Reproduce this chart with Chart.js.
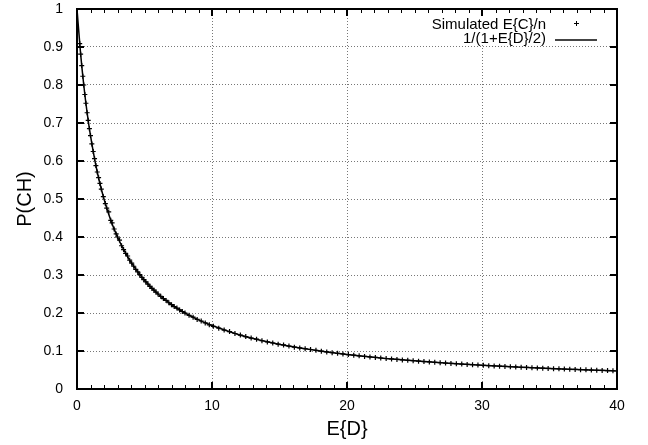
<!DOCTYPE html>
<html>
<head>
<meta charset="utf-8">
<script src="https://cdn.jsdelivr.net/npm/chart.js@4/dist/chart.umd.min.js"></script>
<style>
    html, body { margin: 0; padding: 0; background: #fff; }
</style>
</head>
<body>
<canvas id="chart" width="648" height="445"></canvas>
<script>
// Simulated E{C}/n against E{D}
const simD = [0.2, 0.27, 0.35, 0.43, 0.5, 0.58, 0.66, 0.75, 0.83, 0.92, 1.0, 1.1, 1.2, 1.3, 1.4, 1.5, 1.6, 1.7, 1.8, 1.95,
    2.1, 2.2, 2.35, 2.5, 2.6, 2.75, 2.9, 3.0, 3.15, 3.3, 3.45, 3.6, 3.75, 3.9, 4.05, 4.2, 4.35, 4.5, 4.65, 4.8,
    4.95, 5.1, 5.25, 5.4, 5.55, 5.7, 5.85, 6.0, 6.2, 6.4, 6.6, 6.8, 7.0, 7.2, 7.4, 7.6, 7.8, 8.0, 8.3, 8.6,
    8.9, 9.2, 9.5, 9.8, 10.1, 10.5, 10.9, 11.3, 11.7, 12.1, 12.5, 12.9, 13.3, 13.7, 14.1, 14.5, 14.9, 15.3, 15.7, 16.1,
    16.5, 16.9, 17.3, 17.7, 18.1, 18.5, 18.9, 19.3, 19.7, 20.1, 20.5, 20.9, 21.3, 21.7, 22.1, 22.5, 22.9, 23.3, 23.7, 24.1,
    24.5, 24.9, 25.3, 25.7, 26.1, 26.5, 26.9, 27.3, 27.7, 28.1, 28.5, 28.9, 29.3, 29.7, 30.1, 30.5, 30.9, 31.3, 31.7, 32.1,
    32.5, 32.9, 33.3, 33.7, 34.1, 34.5, 34.9, 35.3, 35.7, 36.1, 36.5, 36.9, 37.3, 37.7, 38.1, 38.5, 38.9, 39.3, 39.7];
const simP = [0.909, 0.881, 0.851, 0.823, 0.800, 0.775, 0.752, 0.727, 0.707, 0.685, 0.667, 0.645, 0.625, 0.606, 0.588, 0.571, 0.556, 0.541, 0.526, 0.506,
    0.488, 0.476, 0.466, 0.444, 0.437, 0.421, 0.408, 0.400, 0.392, 0.377, 0.367, 0.357, 0.350, 0.339, 0.331, 0.323, 0.315, 0.308, 0.301, 0.294,
    0.288, 0.282, 0.276, 0.270, 0.265, 0.260, 0.255, 0.250, 0.244, 0.238, 0.233, 0.227, 0.222, 0.217, 0.213, 0.208, 0.204, 0.200, 0.194, 0.189,
    0.183, 0.179, 0.174, 0.169, 0.165, 0.160, 0.155, 0.151, 0.146, 0.142, 0.138, 0.134, 0.131, 0.127, 0.124, 0.121, 0.118, 0.116, 0.113, 0.110,
    0.108, 0.106, 0.104, 0.102, 0.0995, 0.0976, 0.0957, 0.0939, 0.0922, 0.0905, 0.0889, 0.0873, 0.0858, 0.0844, 0.0830, 0.0816, 0.0803, 0.0791, 0.0778, 0.0766,
    0.0755, 0.0743, 0.0733, 0.0722, 0.0712, 0.0702, 0.0692, 0.0683, 0.0673, 0.0664, 0.0656, 0.0647, 0.0639, 0.0631, 0.0623, 0.0615, 0.0608, 0.0601, 0.0593, 0.0587,
    0.0580, 0.0573, 0.0567, 0.0560, 0.0554, 0.0548, 0.0542, 0.0536, 0.0531, 0.0525, 0.0519, 0.0514, 0.0509, 0.0504, 0.0499, 0.0494, 0.0489, 0.0484, 0.0480];

// 1/(1+E{D}/2) sampled along the axis
const curveD = [0, 0.25, 0.5, 0.75, 1, 1.5, 2, 2.5, 3, 3.5, 4, 5, 6, 7, 8, 9, 10, 12, 14, 16, 18, 20, 22.5, 25, 27.5, 30, 32.5, 35, 37.5, 40];
const curveP = [1, 0.889, 0.8, 0.727, 0.667, 0.571, 0.5, 0.444, 0.4, 0.364, 0.333, 0.286, 0.25, 0.222, 0.2, 0.182, 0.167, 0.143, 0.125, 0.111, 0.1, 0.0909, 0.0816, 0.0741, 0.0678, 0.0625, 0.0580, 0.0541, 0.0506, 0.0476];

const xTicks = [0, 10, 20, 30, 40];
const yTicks = [0, 0.1, 0.2, 0.3, 0.4, 0.5, 0.6, 0.7, 0.8, 0.9, 1];
const xLabel = 'E{D}';
const yLabel = 'P(CH)';
const seriesNames = ['Simulated E{C}/n', '1/(1+E{D}/2)'];

const FONT = '"Liberation Sans", Arial, Helvetica, sans-serif';

const toPoints = (xs, ys) => xs.map((x, i) => ({ x: x, y: ys[i] }));

// white box for the key, laid over the grid
const keyBoxPlugin = {
    id: 'keyBox',
    beforeDatasetsDraw(chart) {
        const ctx = chart.ctx;
        ctx.save();
        ctx.fillStyle = '#fff';
        ctx.fillRect(424, 12, 180, 33);
        ctx.restore();
    }
};

// inward ticks on all four sides
const inwardTicksPlugin = {
    id: 'inwardTicks',
    afterDraw(chart) {
        const ctx = chart.ctx;
        const xs = chart.scales.x;
        const ys = chart.scales.y;
        const left = Math.round(xs.getPixelForValue(0));
        const right = Math.round(xs.getPixelForValue(40));
        const top = Math.round(ys.getPixelForValue(1));
        const bottom = Math.round(ys.getPixelForValue(0));

        ctx.save();
        ctx.fillStyle = '#000';
        for (let v = 1; v < 40; v++) {
            const px = Math.round(xs.getPixelForValue(v));
            const major = v % 10 === 0;
            const len = major ? 7 : 4;
            ctx.fillRect(px - (major ? 1 : 0), bottom - len, major ? 2 : 1, len);
            ctx.fillRect(px - (major ? 1 : 0), top, major ? 2 : 1, len);
        }
        yTicks.slice(1, -1).forEach(v => {
            const py = Math.round(ys.getPixelForValue(v));
            ctx.fillRect(left, py - 1, 7, 2);
            ctx.fillRect(right - 7, py - 1, 7, 2);
        });
        ctx.restore();
    }
};

// axis titles and key
const labelsPlugin = {
    id: 'labels',
    afterDraw(chart) {
        const ctx = chart.ctx;
        const a = chart.chartArea;

        ctx.save();
        ctx.fillStyle = '#000';
        ctx.font = '20px ' + FONT;
        ctx.textAlign = 'center';
        ctx.textBaseline = 'middle';
        ctx.fillText(xLabel, (a.left + a.right) / 2, 429);
        ctx.save();
        ctx.translate(25, (a.top + a.bottom) / 2);
        ctx.rotate(-Math.PI / 2);
        ctx.fillText(yLabel, 0, 0);
        ctx.restore();

        ctx.font = '15px ' + FONT;
        ctx.textAlign = 'right';
        ctx.fillText(seriesNames[0], 546, 25);
        ctx.fillText(seriesNames[1], 546, 39);
        ctx.fillRect(574, 23, 5, 1);
        ctx.fillRect(576, 21, 1, 5);
        ctx.fillStyle = '#444';
        ctx.fillRect(555, 39, 42, 2);
        ctx.restore();
    }
};

const gridColor = (ctx, lo, hi) => {
    const v = ctx.tick ? ctx.tick.value : null;
    return (v === lo || v === hi) ? 'rgba(0,0,0,0)' : '#777';
};

// solid black frame line shared by all four axes
const frameBorder = { display: true, color: '#000', width: 2, dash: [1, 2] };

// top and right axes only carry the frame
const frameAxis = (position, min, max) => ({
    type: 'linear',
    position: position,
    min: min,
    max: max,
    afterFit: s => {
        if (s.isHorizontal()) { s.height = 0; } else { s.width = 0; }
    },
    grid: { display: false, drawTicks: false },
    ticks: { display: false },
    border: frameBorder
});

new Chart(document.getElementById('chart'), {
    type: 'scatter',
    data: {
        datasets: [{
            label: seriesNames[0],
            data: toPoints(simD, simP),
            pointStyle: 'cross',
            pointRadius: 2.5,
            pointBorderWidth: 1.2,
            borderColor: '#000',
            backgroundColor: '#000',
            showLine: false
        }, {
            label: seriesNames[1],
            data: toPoints(curveD, curveP),
            showLine: true,
            borderColor: '#000',
            borderWidth: 1.5,
            pointRadius: 0,
            cubicInterpolationMode: 'monotone'
        }]
    },
    options: {
        responsive: false,
        animation: false,
        layout: { padding: { left: 0, right: 31, top: 9, bottom: 0 } },
        plugins: {
            legend: { display: false },
            tooltip: { enabled: false }
        },
        scales: {
            x: {
                type: 'linear',
                min: 0,
                max: 40,
                afterBuildTicks: s => { s.ticks = xTicks.map(v => ({ value: v })); },
                afterFit: s => { s.height = 56; },
                grid: {
                    color: c => gridColor(c, 0, 40),
                    drawTicks: true,
                    tickLength: 9,
                    tickColor: 'rgba(0,0,0,0)'
                },
                border: frameBorder,
                ticks: {
                    color: '#000',
                    padding: 0,
                    maxRotation: 0,
                    font: { family: FONT, size: 14 },
                    callback: v => String(v)
                }
            },
            y: {
                type: 'linear',
                min: 0,
                max: 1,
                afterBuildTicks: s => { s.ticks = yTicks.map(v => ({ value: v })); },
                afterFit: s => { s.width = 77; },
                grid: {
                    color: c => gridColor(c, 0, 1),
                    drawTicks: true,
                    tickLength: 14,
                    tickColor: 'rgba(0,0,0,0)'
                },
                border: frameBorder,
                ticks: {
                    color: '#000',
                    padding: 0,
                    font: { family: FONT, size: 14 },
                    callback: v => String(v)
                }
            },
            xTop: frameAxis('top', 0, 40),
            yRight: frameAxis('right', 0, 1)
        }
    },
    plugins: [keyBoxPlugin, inwardTicksPlugin, labelsPlugin]
});
</script>
</body>
</html>
